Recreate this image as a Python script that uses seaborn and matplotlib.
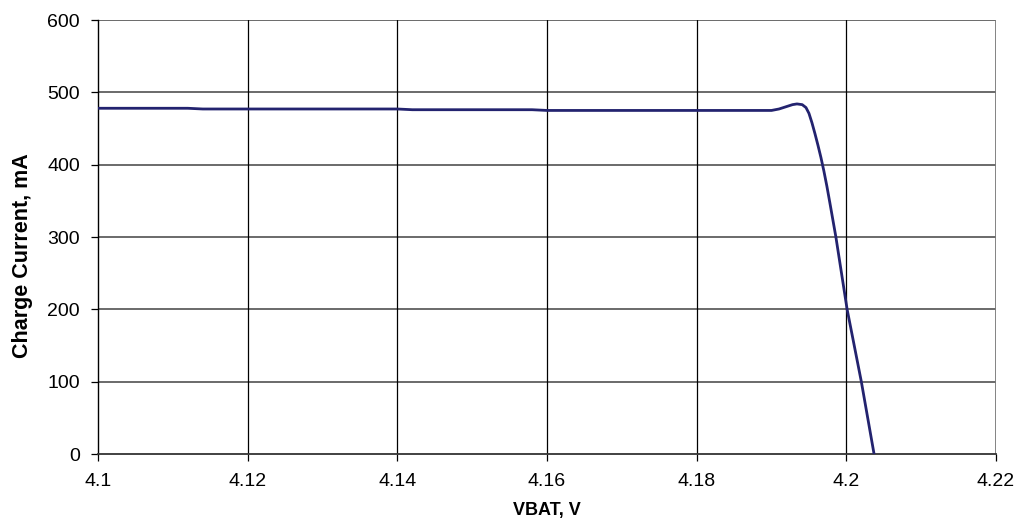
import matplotlib
matplotlib.use("Agg")
import matplotlib.pyplot as plt
import seaborn as sns
import pandas as pd

# Battery voltage (V) and charge current (mA)
vbat = [4.100, 4.112, 4.114, 4.140, 4.142, 4.158, 4.160, 4.1900, 4.1910,
        4.1919, 4.1928, 4.1934, 4.1941, 4.1946, 4.1950, 4.1954, 4.1958,
        4.1962, 4.1966, 4.1970, 4.1974, 4.1978, 4.1986, 4.2001, 4.2020,
        4.2037]
current = [478, 478, 477, 477, 476, 476, 475, 475, 477,
           480, 483, 484, 483, 479, 471, 458, 443,
           427, 410, 391, 370, 347, 300, 200, 100,
           0]

x_ticks = [4.1, 4.12, 4.14, 4.16, 4.18, 4.2, 4.22]
x_tick_labels = ["4.1", "4.12", "4.14", "4.16", "4.18", "4.2", "4.22"]
y_ticks = [0, 100, 200, 300, 400, 500, 600]

sns.set_theme(style="white")
plt.rcParams["font.family"] = ["Liberation Sans", "DejaVu Sans"]

df = pd.DataFrame({"VBAT": vbat, "Current": current})

fig = plt.figure(figsize=(10.24, 5.27), dpi=100)
ax = fig.add_axes([0.0957, 0.1385, 0.8770, 0.8235])

# grid: gray horizontal lines, black vertical lines
for y in y_ticks[1:]:
    ax.axhline(y, color="#6a6a6a", lw=1.4, zorder=1)
for x in x_ticks[1:-1]:
    ax.axvline(x, color="black", lw=0.9, zorder=1)
ax.axvline(x_ticks[-1], color="#7a7a7a", lw=1.3, zorder=1)

sns.lineplot(data=df, x="VBAT", y="Current", estimator=None, sort=False,
             color="#23236f", lw=2.0, ax=ax, zorder=3)

ax.set_xlim(4.1, 4.22)
ax.set_ylim(0, 600)
ax.set_xticks(x_ticks)
ax.set_xticklabels(x_tick_labels)
ax.set_yticks(y_ticks)

for side in ["top", "right"]:
    ax.spines[side].set_visible(False)
ax.spines["left"].set_color("black")
ax.spines["left"].set_linewidth(1.0)
ax.spines["bottom"].set_color("#333333")
ax.spines["bottom"].set_linewidth(1.3)

ax.tick_params(axis="both", which="major", direction="out", length=5,
               width=0.9, color="black", labelsize=14, labelcolor="black",
               bottom=True, left=True)
ax.tick_params(axis="x", pad=9)
ax.tick_params(axis="y", pad=8)

ax.set_xlabel("VBAT, V", fontsize=13, fontweight="bold", labelpad=8,
              color="black")
ax.set_ylabel("Charge Current, mA", fontsize=15.5, fontweight="bold",
              color="black")
ax.yaxis.set_label_coords(-0.072, 0.456)

fig.savefig("out.png", dpi=100, facecolor="white")
